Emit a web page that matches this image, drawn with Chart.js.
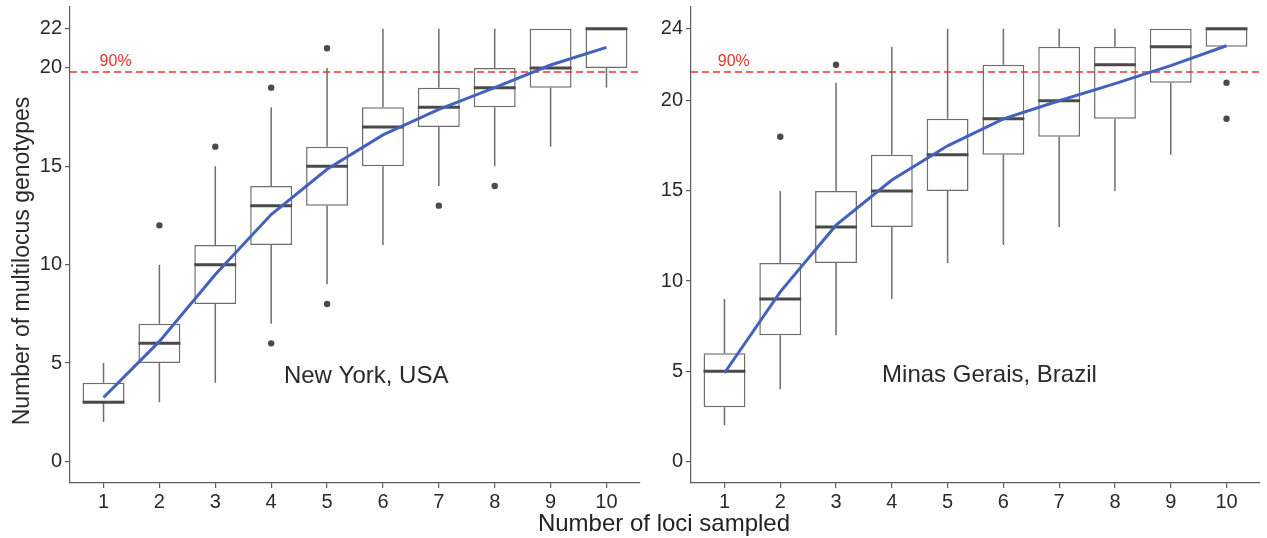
<!DOCTYPE html>
<html><head><meta charset="utf-8">
<script src="https://cdn.jsdelivr.net/npm/chart.js@4/dist/chart.umd.min.js"></script>
<style>
html,body{margin:0;padding:0;background:#fff;}
#wrap{position:relative;width:1267px;height:538px;overflow:hidden;font-family:"Liberation Sans",Arial,sans-serif;background:#fff;}
#c1{position:absolute;left:0;top:0;}
#c2{position:absolute;left:645px;top:0;}
#xt{position:absolute;left:0;width:1328px;text-align:center;top:509px;font-size:24px;line-height:28px;color:#222;}
</style></head>
<body>
<div id="wrap">
<canvas id="c1" width="645" height="538"></canvas>
<canvas id="c2" width="622" height="538"></canvas>
<div id="xt">Number of loci sampled</div>
</div>
<script>
// ---- data ----
const loci = [1,2,3,4,5,6,7,8,9,10];

const nyMin  = [2,3,4,7,9,11,14,15,16,19];
const nyQ1   = [3,5,8,11,13,15,17,18,19,20];
const nyMed  = [3,6,10,13,15,17,18,19,20,22];
const nyQ3   = [4,7,11,14,16,18,19,20,22,22];
const nyMax  = [5,10,15,18,20,22,22,22,22,22];
const nyMean = [3.25,6.1,9.5,12.55,14.85,16.6,17.9,19.0,20.15,21.05];
const nyOutX = [2,3,4,4,5,5,7,8];
const nyOutY = [12,16,19,6,21,8,13,14];
const nyTicks = [0,5,10,15,20,22];
const nyThreshold = 19.8;

const mgMin  = [2,4,7,9,11,12,13,15,17,23];
const mgQ1   = [3,7,11,13,15,17,18,19,21,23];
const mgMed  = [5,9,13,15,17,19,20,22,23,24];
const mgQ3   = [6,11,15,17,19,22,23,23,24,24];
const mgMax  = [9,15,21,23,24,24,24,24,24,24];
const mgMean = [4.9,9.4,13.1,15.6,17.5,19.0,20.0,20.95,21.95,23.05];
const mgOutX = [2,3,10,10];
const mgOutY = [18,22,21,19];
const mgTicks = [0,5,10,15,20,24];
const mgThreshold = 21.6;

const thresholdLabel = "90%";
const yTitle = "Number of multilocus genotypes";

// ---- styling ----
const FONT = "'Liberation Sans', Arial, sans-serif";
const AXIS = "#5c5c5c";
const BOXC = "#6e6e6e";
const MEDC = "#4a4a4a";
const BLUE = "#4462bd";
const RED  = "#e5352b";
const TXT  = "#2a2a2a";

const boxExtras = {
  id: 'boxExtras',
  afterDatasetDraw(chart, args) {
    const ds = chart.data.datasets[args.index];
    if (!ds.isBox) return;
    const o = chart.options.plugins.boxExtras;
    const xs = chart.scales.x, ys = chart.scales.y;
    const ctx = chart.ctx;
    ctx.save();
    const half = (xs.getPixelForValue(2) - xs.getPixelForValue(1)) * 0.375;
    for (let i = 0; i < o.x.length; i++) {
      const px = xs.getPixelForValue(o.x[i]);
      ctx.strokeStyle = BOXC; ctx.lineWidth = 1.5;
      ctx.beginPath();
      if (o.max[i] > o.q3[i]) { ctx.moveTo(px, ys.getPixelForValue(o.q3[i])); ctx.lineTo(px, ys.getPixelForValue(o.max[i])); }
      if (o.min[i] < o.q1[i]) { ctx.moveTo(px, ys.getPixelForValue(o.q1[i])); ctx.lineTo(px, ys.getPixelForValue(o.min[i])); }
      ctx.stroke();
      ctx.strokeStyle = MEDC; ctx.lineWidth = 3;
      ctx.beginPath();
      const my = ys.getPixelForValue(o.med[i]);
      ctx.moveTo(px - half, my); ctx.lineTo(px + half, my);
      ctx.stroke();
    }
    ctx.restore();
  },
  afterDraw(chart) {
    const o = chart.options.plugins.boxExtras;
    const xs = chart.scales.x, ys = chart.scales.y;
    const ctx = chart.ctx;
    ctx.save();
    ctx.fillStyle = TXT;
    ctx.font = "24px " + FONT;
    ctx.textAlign = 'center'; ctx.textBaseline = 'middle';
    ctx.fillText(o.label, xs.getPixelForValue(o.labelX), ys.getPixelForValue(o.labelY));
    if (o.title) {
      ctx.save();
      ctx.translate(23, 261);
      ctx.rotate(-Math.PI / 2);
      ctx.font = "23px " + FONT;
      ctx.fillText(yTitle, 0, 0);
      ctx.restore();
    }
    ctx.fillStyle = RED;
    ctx.font = "16px " + FONT;
    ctx.textAlign = 'left'; ctx.textBaseline = 'bottom';
    ctx.fillText(thresholdLabel, xs.getPixelForValue(o.pctX), ys.getPixelForValue(o.threshold) - 2);
    ctx.restore();
  }
};

function makeChart(id, d) {
  const boxData = loci.map((x, i) => ({x: x, y: [d.q1[i], d.q3[i]]}));
  const meanData = loci.map((x, i) => ({x: x, y: d.mean[i]}));
  const outData = d.outX.map((x, i) => ({x: x, y: d.outY[i]}));
  const thrData = [{x: 0.4, y: d.threshold}, {x: 10.6, y: d.threshold}];
  return new Chart(document.getElementById(id), {
    type: 'scatter',
    data: {
      datasets: [
        {type: 'line', data: meanData, borderColor: BLUE, borderWidth: 3, pointRadius: 0, tension: 0, fill: false, order: 0},
        {type: 'scatter', data: outData, backgroundColor: '#4a4a4a', borderWidth: 0, pointRadius: 3.2, order: 1},
        {type: 'line', data: thrData, borderColor: RED, borderWidth: 1.5, borderDash: [7, 4], pointRadius: 0, fill: false, order: 2},
        {type: 'bar', isBox: true, data: boxData, backgroundColor: '#ffffff', borderColor: BOXC, borderWidth: 1.5,
         borderSkipped: false, barPercentage: 0.75, categoryPercentage: 1, order: 3}
      ]
    },
    options: {
      responsive: false,
      animation: false,
      events: [],
      layout: {padding: {top: 7, right: d.padRight, left: 0, bottom: 0}},
      plugins: {
        legend: {display: false}, tooltip: {enabled: false},
        boxExtras: {x: loci, min: d.min, q1: d.q1, med: d.med, q3: d.q3, max: d.max, title: d.title,
          label: d.label, labelX: d.labelX, labelY: d.labelY, pctX: d.pctX, threshold: d.threshold}
      },
      scales: {
        x: {
          type: 'linear', min: 0.4, max: 10.6, offset: false,
          grid: {display: true, drawOnChartArea: false, drawTicks: true, tickLength: 5, color: AXIS, lineWidth: 1.2, offset: false},
          border: {display: true, color: AXIS, width: 1.2},
          ticks: {font: {size: 20, family: FONT}, color: TXT, padding: 2, maxRotation: 0, autoSkip: false},
          afterBuildTicks: s => { s.ticks = loci.map(v => ({value: v})); },
          afterFit: s => { s.height = 55; s.paddingLeft = 0; s.paddingRight = 0; }
        },
        y: {
          type: 'linear', min: d.ymin, max: d.ymax,
          grid: {display: true, drawOnChartArea: false, drawTicks: true, tickLength: 5, color: AXIS, lineWidth: 1.2},
          border: {display: true, color: AXIS, width: 1.2},
          ticks: {font: {size: 20, family: FONT}, color: TXT, padding: 3},
          afterBuildTicks: s => { s.ticks = d.ticks.map(v => ({value: v})); },
          afterFit: s => { s.width = d.yWidth; s.paddingTop = 0; s.paddingBottom = 0; }
        }
      }
    },
    plugins: [boxExtras]
  });
}

makeChart('c1', {min: nyMin, q1: nyQ1, med: nyMed, q3: nyQ3, max: nyMax, mean: nyMean,
  outX: nyOutX, outY: nyOutY, ticks: nyTicks, threshold: nyThreshold, ymin: -1.1, ymax: 23.1,
  yWidth: 70, padRight: 5, title: true, label: "New York, USA", labelX: 5.7, labelY: 4.3, pctX: 0.93});
makeChart('c2', {min: mgMin, q1: mgQ1, med: mgMed, q3: mgQ3, max: mgMax, mean: mgMean,
  outX: mgOutX, outY: mgOutY, ticks: mgTicks, threshold: mgThreshold, ymin: -1.2, ymax: 25.2,
  yWidth: 46, padRight: 7, title: false, label: "Minas Gerais, Brazil", labelX: 5.75, labelY: 4.75, pctX: 0.88});
</script>
</body></html>
